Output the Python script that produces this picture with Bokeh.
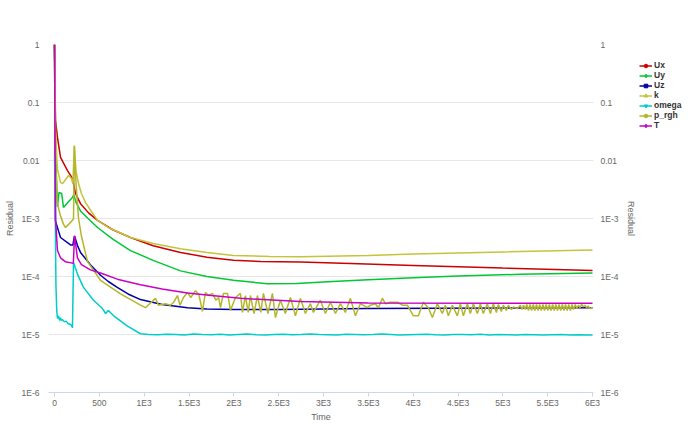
from bokeh.plotting import figure
from bokeh.layouts import row
from bokeh.models import (LogAxis, FixedTicker, CustomJSTickFormatter, Legend, LegendItem)
from bokeh.embed import file_html
from bokeh.resources import INLINE

# ---------------- data (time, residual) ----------------
names = ["Ux", "Uy", "Uz", "k", "omega", "p_rgh", "T"]
colors = ["#cc0000", "#00c832", "#0000aa", "#c4c43a", "#00cccc", "#b5b52a", "#c800c8"]
markers = ["circle", "diamond", "square", "triangle", "inverted_triangle", "circle", "diamond"]

ux = [(0, 1), (11, 0.05), (33, 0.025), (67, 0.0113), (145, 6.7e-3), (200, 4.9e-3), (234, 2.7e-3),
      (290, 1.8e-3), (380, 1.25e-3), (480, 9.3e-4), (650, 6.4e-4), (847, 4.7e-4), (1100, 3.4e-4),
      (1405, 2.6e-4), (1700, 2.15e-4), (1996, 1.9e-4), (2300, 1.82e-4), (2742, 1.77e-4),
      (3300, 1.68e-4), (4000, 1.55e-4), (5000, 1.4e-4), (6000, 1.27e-4)]

uy = [(0, 1), (15, 0.01), (33, 1.6e-3), (50, 2.8e-3), (80, 2.7e-3), (100, 1.55e-3), (150, 1.9e-3),
      (200, 2.3e-3), (215, 2.6e-3), (240, 1.9e-3), (290, 1.35e-3), (380, 9.8e-4), (480, 7e-4),
      (650, 4.4e-4), (847, 2.8e-4), (1100, 1.9e-4), (1405, 1.25e-4), (1700, 1.0e-4),
      (1996, 8.6e-5), (2375, 7.5e-5), (2700, 7.6e-5), (3100, 8.2e-5), (3500, 8.8e-5),
      (4000, 9.5e-5), (4500, 1.02e-4), (5200, 1.09e-4), (6000, 1.15e-4)]

uz = [(0, 1), (11, 9e-4), (67, 4.7e-4), (178, 3.5e-4), (205, 3.5e-4), (223, 5e-4), (260, 3.3e-4),
      (290, 2.6e-4), (400, 1.6e-4), (513, 1.05e-4), (600, 8.2e-5), (700, 6.5e-5), (820, 5e-5),
      (959, 4e-5), (1200, 3.3e-5), (1483, 2.9e-5), (1700, 2.75e-5), (1996, 2.7e-5),
      (2500, 2.7e-5), (3500, 2.8e-5), (6000, 2.9e-5)]

k = [(0, 1), (11, 0.03), (33, 7e-3), (67, 4.2e-3), (90, 4e-3), (120, 4.6e-3), (156, 5.5e-3),
     (185, 5e-3), (205, 4e-3), (220, 0.018), (240, 6.5e-3), (268, 4e-3), (300, 2.7e-3),
     (345, 1.9e-3), (400, 1.4e-3), (480, 9.3e-4), (600, 7e-4), (847, 4.7e-4), (1100, 3.7e-4),
     (1405, 3e-4), (1700, 2.6e-4), (1996, 2.3e-4), (2400, 2.22e-4), (2742, 2.2e-4),
     (3500, 2.3e-4), (4000, 2.45e-4), (5000, 2.65e-4), (6000, 2.85e-4)]

omega = [(0, 1.26e-2), (8, 1.5e-3), (16, 7e-5), (25, 2.6e-5), (33, 1.9e-5), (45, 2.1e-5),
         (56, 1.75e-5), (67, 1.95e-5), (78, 1.75e-5), (90, 1.8e-5), (110, 1.65e-5), (130, 1.7e-5),
         (150, 1.55e-5), (170, 1.5e-5), (190, 1.45e-5), (200, 1.3e-5), (212, 1.75e-4),
         (256, 1.1e-4), (323, 6.5e-5), (435, 3.9e-5), (535, 2.8e-5), (570, 2.3e-5), (600, 2.6e-5),
         (660, 2.1e-5), (814, 1.4e-5), (959, 1.03e-5), (1050, 1.0e-5), (1150, 0.99e-5),
         (1250, 1.01e-5), (1350, 1.0e-5), (1450, 0.98e-5), (1550, 1.02e-5), (1650, 1.0e-5),
         (1750, 0.99e-5), (1850, 1.01e-5), (1950, 0.98e-5), (2050, 1.0e-5), (2150, 1.02e-5),
         (2250, 0.99e-5), (2350, 0.98e-5), (2450, 1.0e-5), (2550, 1.01e-5), (2650, 0.99e-5),
         (2750, 1.0e-5), (2850, 1.02e-5), (2950, 1.0e-5), (3050, 0.99e-5), (3150, 0.98e-5),
         (3250, 1.01e-5), (3350, 1.0e-5), (3450, 0.99e-5), (3550, 1.0e-5), (3650, 1.02e-5),
         (3750, 1.0e-5), (3850, 0.98e-5), (3950, 0.99e-5), (4050, 1.0e-5), (4150, 1.01e-5),
         (4250, 0.99e-5), (4350, 0.98e-5), (4450, 1.0e-5), (4550, 1.0e-5), (4650, 0.99e-5),
         (4750, 1.01e-5), (4850, 0.98e-5), (4950, 1.0e-5), (5050, 0.99e-5), (5150, 0.98e-5),
         (5250, 1.0e-5), (5350, 0.99e-5), (5450, 0.98e-5), (5550, 0.99e-5), (5650, 1.0e-5),
         (5750, 0.98e-5), (5850, 0.99e-5), (5950, 0.98e-5), (6000, 0.98e-5)]

p_rgh = [(0, 1), (11, 1e-2), (33, 1.8e-3), (67, 1.1e-3), (100, 8e-4), (123, 7e-4), (160, 8e-4),
         (200, 9.3e-4), (212, 1e-3), (222, 1.8e-2), (240, 4e-3), (268, 1e-3), (300, 5e-4),
         (368, 1.8e-4), (513, 8.6e-5), (736, 5e-5), (959, 3.2e-5), (1014, 2.9e-5), (1126, 4.2e-5),
         (1160, 3.2e-5), (1237, 3.4e-5), (1293, 3.2e-5), (1330, 3.6e-5), (1371, 4.7e-5),
         (1400, 3.2e-5), (1438, 4.35e-5), (1483, 5.3e-5), (1520, 4.35e-5), (1572, 5.7e-5),
         (1610, 4.9e-5), (1650, 2.5e-5), (1683, 5.3e-5), (1720, 4.7e-5), (1761, 5.1e-5),
         (1800, 3.9e-5), (1830, 4.35e-5), (1851, 2.9e-5), (1884, 5.1e-5), (1930, 5.1e-5),
         (1962, 2.6e-5), (2018, 4.35e-5), (2074, 5.1e-5), (2096, 2.4e-5), (2129, 4.7e-5),
         (2160, 2.4e-5), (2185, 4.7e-5), (2225, 2.3e-5), (2263, 4.7e-5), (2300, 2.4e-5),
         (2330, 5.1e-5), (2380, 2.3e-5), (2430, 5.1e-5), (2464, 1.96e-5), (2519, 3.9e-5),
         (2575, 2.3e-5), (2631, 4.35e-5), (2687, 2.1e-5), (2742, 4.2e-5), (2798, 2.3e-5),
         (2854, 3.4e-5), (2887, 2.4e-5), (2965, 3.9e-5), (3021, 2.3e-5), (3077, 3.6e-5),
         (3133, 2.3e-5), (3188, 3.4e-5), (3244, 2.4e-5), (3300, 4.2e-5), (3356, 2.1e-5),
         (3411, 3.4e-5), (3489, 2.9e-5), (3523, 3.2e-5), (3578, 3.4e-5), (3612, 2.9e-5),
         (3657, 4.2e-5), (3690, 3.4e-5), (3746, 3.6e-5), (3780, 3.6e-5), (3824, 3.6e-5),
         (3880, 3.2e-5), (3935, 3.2e-5), (4002, 2.1e-5), (4058, 2.1e-5), (4114, 3.6e-5),
         (4169, 2.9e-5), (4214, 1.96e-5), (4270, 3.4e-5), (4325, 2.3e-5), (4359, 3.2e-5),
         (4392, 2.1e-5), (4437, 3.2e-5), (4493, 2.1e-5), (4526, 3.4e-5), (4560, 2.1e-5),
         (4604, 3.4e-5), (4637, 2.3e-5), (4671, 3.4e-5), (4716, 2.3e-5), (4749, 3.4e-5),
         (4782, 2.3e-5), (4827, 3.4e-5), (4861, 2.3e-5), (4894, 3.4e-5), (4928, 2.4e-5),
         (4950, 3.3e-5), (4983, 2.5e-5), (5005, 3.2e-5), (5039, 2.6e-5), (5061, 3.2e-5),
         (5095, 2.7e-5), (5117, 3.0e-5), (5161, 2.8e-5), (5195, 3.2e-5), (5213, 2.7e-5),
         (5231, 3.2e-5), (5249, 2.7e-5), (5267, 3.3e-5), (5285, 2.6e-5), (5303, 3.3e-5),
         (5321, 2.6e-5), (5339, 3.3e-5), (5357, 2.6e-5), (5375, 3.3e-5), (5393, 2.6e-5),
         (5411, 3.3e-5), (5429, 2.6e-5), (5447, 3.3e-5), (5465, 2.6e-5), (5483, 3.3e-5),
         (5501, 2.6e-5), (5519, 3.3e-5), (5537, 2.6e-5), (5555, 3.3e-5), (5573, 2.6e-5),
         (5591, 3.3e-5), (5609, 2.6e-5), (5627, 3.3e-5), (5645, 2.6e-5), (5663, 3.3e-5),
         (5681, 2.6e-5), (5699, 3.3e-5), (5717, 2.6e-5), (5735, 3.3e-5), (5753, 2.6e-5),
         (5771, 3.3e-5), (5789, 2.7e-5), (5807, 3.3e-5), (5825, 2.8e-5), (5843, 3.2e-5),
         (5861, 2.9e-5), (5879, 3.3e-5), (5897, 3.0e-5), (5915, 3.2e-5), (5933, 2.9e-5),
         (5951, 3.1e-5), (5969, 2.8e-5), (5987, 2.9e-5), (6000, 2.9e-5)]

T = [(0, 1), (11, 1e-3), (33, 2.8e-4), (67, 2.1e-4), (120, 1.8e-4), (200, 1.7e-4), (210, 1.7e-4),
     (223, 5e-4), (256, 2.1e-4), (300, 1.6e-4), (400, 1.3e-4), (513, 1.15e-4), (700, 9e-5),
     (959, 7.2e-5), (1200, 6.1e-5), (1483, 5.2e-5), (1750, 4.7e-5), (2074, 4.2e-5),
     (2742, 3.7e-5), (3500, 3.5e-5), (6000, 3.45e-5)]

series = [ux, uy, uz, k, omega, p_rgh, T]

x_ticks = [0, 500, 1000, 1500, 2000, 2500, 3000, 3500, 4000, 4500, 5000, 5500, 6000]
y_ticks = [1e-6, 1e-5, 1e-4, 1e-3, 1e-2, 1e-1, 1]

# ---------------- main figure ----------------
FONT = "Liberation Sans"
LABEL_COLOR = "#666666"

p = figure(frame_width=545, frame_height=348, x_range=(-67, 6011), y_range=(1e-6, 1),
           y_axis_type="log", output_backend="svg", toolbar_location=None,
           min_border_left=48, min_border_top=44, min_border_right=42, min_border_bottom=24,
           background_fill_color="white", border_fill_color="white")
p.outline_line_color = None

x_fmt = CustomJSTickFormatter(code="return tick < 1000 ? String(tick) : String(tick/1000) + 'E3';")
y_fmt = CustomJSTickFormatter(code="""
const e = Math.round(Math.log10(tick));
return e >= -2 ? Math.pow(10, e).toFixed(Math.max(0, -e)) : '1E' + e;
""")

xa = p.xaxis[0]
xa.ticker = FixedTicker(ticks=x_ticks)
xa.formatter = x_fmt
xa.minor_tick_line_color = None
xa.major_tick_out = 4
xa.major_tick_in = 0
xa.major_tick_line_color = "#ccd6eb"
xa.axis_line_color = "#ccd6eb"
xa.major_label_standoff = 1
xa.major_label_text_font = FONT
xa.major_label_text_font_size = "8.5px"
xa.major_label_text_color = LABEL_COLOR
xa.axis_label = "Time"
xa.axis_label_standoff = 1
xa.axis_label_text_font = FONT
xa.axis_label_text_font_size = "9px"
xa.axis_label_text_font_style = "normal"
xa.axis_label_text_color = LABEL_COLOR

def style_y(ax, standoff, lab_standoff):
    ax.ticker = FixedTicker(ticks=y_ticks)
    ax.formatter = y_fmt
    ax.axis_line_color = None
    ax.major_tick_line_color = None
    ax.minor_tick_line_color = None
    ax.major_tick_out = 0
    ax.major_tick_in = 0
    ax.major_label_standoff = standoff
    ax.major_label_text_font = FONT
    ax.major_label_text_font_size = "8.5px"
    ax.major_label_text_color = LABEL_COLOR
    ax.axis_label = "Residual"
    ax.axis_label_standoff = lab_standoff
    ax.axis_label_text_font = FONT
    ax.axis_label_text_font_size = "9px"
    ax.axis_label_text_font_style = "normal"
    ax.axis_label_text_color = LABEL_COLOR

style_y(p.yaxis[0], 9, 4)
ra = LogAxis()
p.add_layout(ra, "right")
style_y(ra, 7, 5)

p.xgrid.visible = False
p.ygrid.ticker = FixedTicker(ticks=y_ticks)
p.ygrid.grid_line_color = "#e6e6e6"
p.ygrid.grid_line_width = 1

for name, col, data in zip(names, colors, series):
    t = [d[0] for d in data]
    v = [d[1] for d in data]
    p.line(t, v, line_color=col, line_width=1.5)

# ---------------- legend panel (separate small figure) ----------------
NAN = float("nan")
lg = figure(width=52, height=418, output_backend="svg", toolbar_location=None,
            x_axis_location=None, y_axis_location=None, x_range=(0, 1), y_range=(0, 1),
            min_border_left=0, min_border_right=0, min_border_top=44, min_border_bottom=26,
            background_fill_color="white", border_fill_color="white")
lg.outline_line_color = None
lg.xgrid.visible = False
lg.ygrid.visible = False

items = []
for name, col, mk in zip(names, colors, markers):
    lr = lg.line(x=[NAN], y=[NAN], line_color=col, line_width=1.5)
    sr = lg.scatter(x=[NAN], y=[NAN], marker=mk, size=6, fill_color=col, line_color=col)
    items.append(LegendItem(label=name, renderers=[lr, sr]))

legend = Legend(items=items, location=(0, 256), orientation="vertical",
                border_line_color=None, background_fill_alpha=0,
                label_text_font=FONT, label_text_font_size="8.5px", label_text_font_style="bold",
                label_text_color="#333333", glyph_width=13, glyph_height=9, label_height=9,
                label_standoff=2, spacing=0, padding=0, margin=0)
lg.add_layout(legend, "center")

layout = row(p, lg)
open("out.html", "w").write(file_html(layout, INLINE))
